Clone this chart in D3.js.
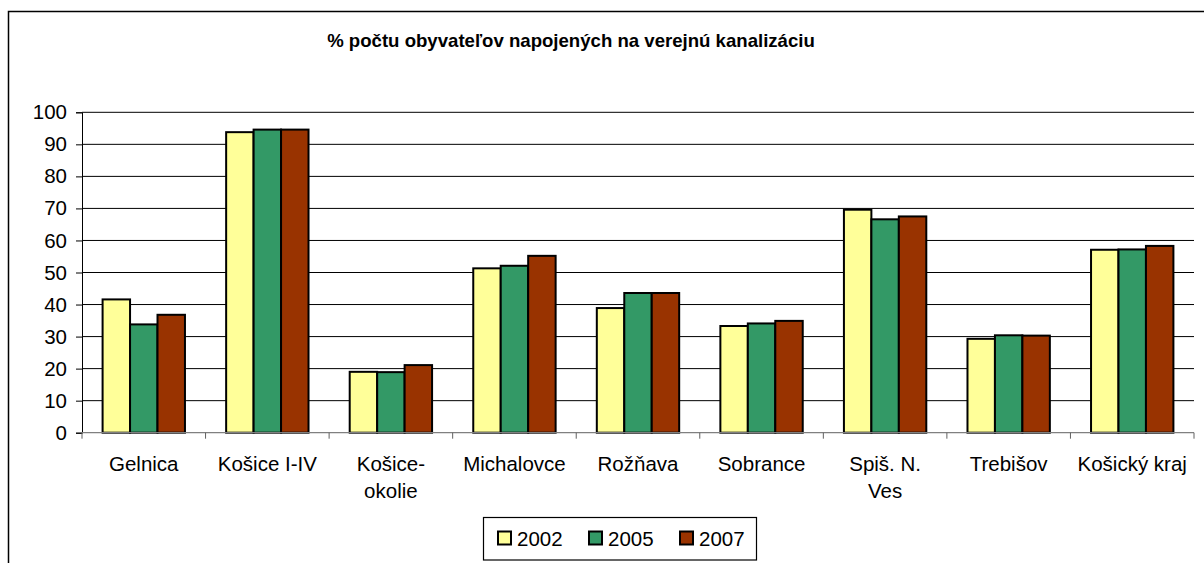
<!DOCTYPE html>
<html>
<head>
<meta charset="utf-8">
<script src="https://cdn.jsdelivr.net/npm/d3@7"></script>
<style>
  html, body { margin: 0; padding: 0; background: #fff; }
  svg { display: block; font-family: "Liberation Sans", Arial, sans-serif; }
</style>
</head>
<body>
<svg id="chart" width="1204" height="563"></svg>
<script>
const title = "% počtu obyvateľov napojených na verejnú kanalizáciu";
const categories = ["Gelnica", "Košice I-IV", "Košice-okolie", "Michalovce", "Rožňava", "Sobrance", "Spiš. N. Ves", "Trebišov", "Košický kraj"];
const categoryLabels = [["Gelnica"], ["Košice I-IV"], ["Košice-", "okolie"], ["Michalovce"], ["Rožňava"], ["Sobrance"], ["Spiš. N.", "Ves"], ["Trebišov"], ["Košický kraj"]];
const seriesNames = ["2002", "2005", "2007"];
const values2002 = [41.6, 93.8, 19.0, 51.3, 38.9, 33.3, 69.6, 29.3, 57.1];
const values2005 = [33.8, 94.6, 18.9, 52.1, 43.6, 34.1, 66.6, 30.4, 57.2];
const values2007 = [36.8, 94.6, 21.1, 55.2, 43.6, 34.9, 67.5, 30.3, 58.3];
const yTicks = [0, 10, 20, 30, 40, 50, 60, 70, 80, 90, 100];
const colors = ["#FFFF99", "#339966", "#993300"];

const seriesValues = [values2002, values2005, values2007];

const svg = d3.select("#chart");
const W = 1204, H = 563;
const plot = { left: 82, right: 1194, top: 112.3, bottom: 432.7 };

svg.append("rect").attr("width", W).attr("height", H).attr("fill", "#fff");
// outer chart border (extends past the frame)
svg.append("rect")
  .attr("x", 8.5).attr("y", 11.5).attr("width", W + 20).attr("height", H + 20)
  .attr("fill", "none").attr("stroke", "#000").attr("stroke-width", 1.5);

// title
svg.append("text")
  .attr("x", 571).attr("y", 47)
  .attr("text-anchor", "middle")
  .attr("font-weight", "bold").attr("font-size", "18.6px").attr("fill", "#000")
  .text(title);

const x0 = d3.scaleBand().domain(categories).range([plot.left, plot.right]).padding(0);
const bw = x0.bandwidth() / 4.5;
const x1 = d3.scaleBand().domain(seriesNames).range([0.75 * bw, 3.75 * bw]).padding(0);
const y = d3.scaleLinear().domain([0, 100]).range([plot.bottom, plot.top]);

// gridlines
svg.append("g").selectAll("line").data(yTicks.filter(t => t > 0)).join("line")
  .attr("x1", plot.left).attr("x2", plot.right)
  .attr("y1", d => y(d)).attr("y2", d => y(d))
  .attr("stroke", "#000").attr("stroke-width", 1);

// y axis
const yAxis = svg.append("g").attr("transform", `translate(${plot.left},0)`)
  .call(d3.axisLeft(y).tickValues(yTicks).tickSize(6).tickPadding(9).tickFormat(d3.format("d")));
yAxis.select(".domain").attr("stroke", "#000");
yAxis.selectAll(".tick line").attr("stroke", "#000");
yAxis.selectAll("text").attr("font-size", "20.5px").attr("fill", "#000")
  .attr("font-family", "Liberation Sans, Arial, sans-serif");

// bars
const groups = svg.append("g").selectAll("g").data(categories).join("g")
  .attr("transform", d => `translate(${x0(d)},0)`);
groups.selectAll("rect")
  .data((d, i) => seriesNames.map((s, j) => ({ s, j, v: seriesValues[j][i] })))
  .join("rect")
  .attr("x", d => x1(d.s))
  .attr("width", x1.bandwidth())
  .attr("y", d => y(d.v))
  .attr("height", d => y(0) - y(d.v))
  .attr("fill", d => colors[d.j])
  .attr("stroke", "#000").attr("stroke-width", 2);

// x axis
const xAxis = svg.append("g").attr("transform", `translate(0,${plot.bottom})`);
xAxis.append("line").attr("x1", plot.left).attr("x2", plot.right)
  .attr("stroke", "#808080").attr("stroke-width", 1.2);
const boundaries = categories.map(c => x0(c)).concat([plot.right]);
xAxis.selectAll("line.tk").data(boundaries).join("line").attr("class", "tk")
  .attr("x1", d => d).attr("x2", d => d).attr("y1", 0).attr("y2", 6)
  .attr("stroke", "#606060").attr("stroke-width", 1);

const lbl = xAxis.selectAll("text.cat").data(categories).join("text").attr("class", "cat")
  .attr("text-anchor", "middle").attr("font-size", "20.5px").attr("fill", "#000")
  .attr("x", d => x0(d) + x0.bandwidth() / 2);
lbl.each(function (d, i) {
  const t = d3.select(this);
  categoryLabels[i].forEach((line, k) => {
    t.append("tspan").attr("x", x0(d) + x0.bandwidth() / 2)
      .attr("y", 38.5 + k * 27.3).text(line);
  });
});

// legend
const legend = svg.append("g").attr("transform", "translate(483.5,517.5)");
legend.append("rect").attr("width", 273).attr("height", 42.5)
  .attr("fill", "#fff").attr("stroke", "#000").attr("stroke-width", 1.2);
const items = legend.selectAll("g").data(seriesNames).join("g")
  .attr("transform", (d, i) => `translate(${14.5 + i * 91},0)`);
items.append("rect").attr("x", 0).attr("y", 14).attr("width", 13).attr("height", 13)
  .attr("fill", (d, i) => colors[i]).attr("stroke", "#000").attr("stroke-width", 2);
items.append("text").attr("x", 19).attr("y", 28).attr("font-size", "20.5px").attr("fill", "#000")
  .text(d => d);
</script>
</body>
</html>
